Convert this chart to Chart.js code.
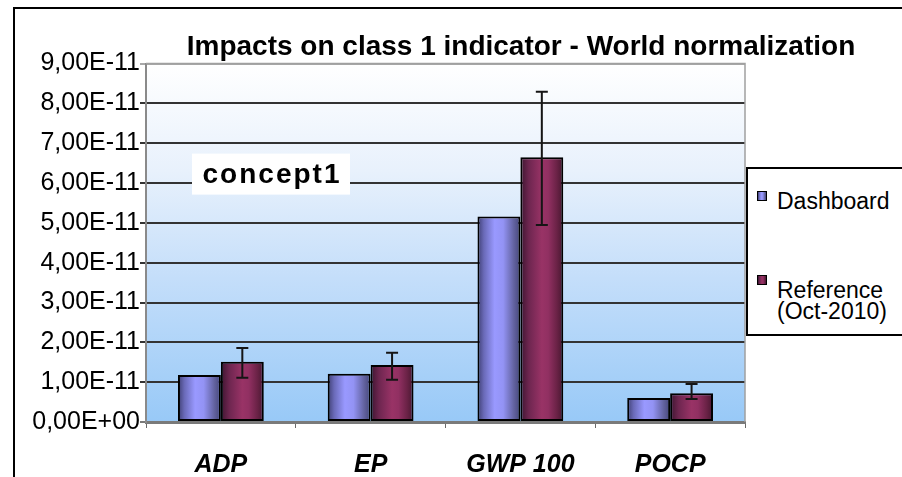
<!DOCTYPE html>
<html><head><meta charset="utf-8">
<script src="https://cdn.jsdelivr.net/npm/chart.js@4/dist/chart.umd.min.js"></script>
<style>
html,body{margin:0;padding:0;background:#fff;}
#wrap{position:relative;width:902px;height:477px;overflow:hidden;}
canvas{position:absolute;left:0;top:0;}
#legend{position:absolute;left:746px;top:167px;width:180px;height:165px;border:2px solid #000;background:#fff;font-family:'Liberation Sans',Arial,sans-serif;font-size:23px;color:#000;}
.sw{position:absolute;left:9px;width:8px;height:8px;border:1px solid #000;}
.txt{position:absolute;left:29px;line-height:21px;white-space:nowrap;}
</style></head>
<body>
<div id="wrap"><canvas id="c" width="902" height="477"></canvas><div id="legend"></div></div>
<script>
const titleText = 'Impacts on class 1 indicator - World normalization';
const categories = ['ADP', 'EP', 'GWP 100', 'POCP'];
const seriesNames = [['Dashboard'], ['Reference', '(Oct-2010)']];
const dashboard = [1.18e-11, 1.21e-11, 5.16e-11, 0.60e-11];
const reference = [1.51e-11, 1.43e-11, 6.65e-11, 0.72e-11];
const refErrLow = [1.11e-11, 1.06e-11, 4.95e-11, 0.58e-11];
const refErrHigh = [1.86e-11, 1.74e-11, 8.29e-11, 0.955e-11];
const yTicks = [0, 1e-11, 2e-11, 3e-11, 4e-11, 5e-11, 6e-11, 7e-11, 8e-11, 9e-11];
const yTickLabels = ['0,00E+00', '1,00E-11', '2,00E-11', '3,00E-11', '4,00E-11', '5,00E-11', '6,00E-11', '7,00E-11', '8,00E-11', '9,00E-11'];
const noteText = 'concept1';

const CAT_PCT = 0.573;
const dashStops = [[0,'#3e3e72'],[0.15,'#6a6ab8'],[0.4,'#9999ff'],[0.6,'#9393f4'],[0.85,'#62629f'],[1,'#45457a']];
const refStops = [[0,'#3d1530'],[0.2,'#6e2650'],[0.5,'#993366'],[0.65,'#913062'],[0.85,'#6a2246'],[1,'#46172f']];

function barGrad(stops, fallback){
  return (c) => {
    const ch = c.chart, xs = ch.scales.x;
    if (!ch.chartArea || !xs || c.dataIndex === undefined) return fallback;
    const catW = xs.width / categories.length;
    const bw = catW * CAT_PCT / 2;
    const center = xs.getPixelForValue(c.dataIndex);
    const left = center - bw + c.datasetIndex * bw;
    const g = ch.ctx.createLinearGradient(left, 0, left + bw, 0);
    stops.forEach(s => g.addColorStop(s[0], s[1]));
    return g;
  };
}

// legend (HTML)
const legendEl = document.getElementById('legend');
const swTops = [22, 106];
const txtTops = [22, 110.5];
const swCss = [
  'linear-gradient(to right,' + dashStops.map(s => s[1] + ' ' + (s[0]*100) + '%').join(',') + ')',
  'linear-gradient(to right,' + refStops.map(s => s[1] + ' ' + (s[0]*100) + '%').join(',') + ')'
];
seriesNames.forEach((lines, i) => {
  const sw = document.createElement('div');
  sw.className = 'sw'; sw.style.top = swTops[i] + 'px'; sw.style.background = swCss[i];
  legendEl.appendChild(sw);
  const t = document.createElement('div');
  t.className = 'txt'; t.style.top = txtTops[i] + 'px';
  t.innerHTML = lines.join('<br>');
  legendEl.appendChild(t);
});

const bgPlugin = {
  id: 'bg',
  beforeDraw(chart) {
    const {ctx, chartArea: ca} = chart;
    ctx.save();
    ctx.strokeStyle = '#000'; ctx.lineWidth = 2;
    ctx.beginPath(); ctx.moveTo(14, 477); ctx.lineTo(14, 8); ctx.lineTo(902, 8); ctx.stroke();
    const g = ctx.createLinearGradient(0, ca.top, 0, ca.bottom);
    g.addColorStop(0, '#ffffff');
    g.addColorStop(0.3, '#e8f1fc');
    g.addColorStop(0.6, '#c4defa');
    g.addColorStop(1, '#98c9f7');
    ctx.fillStyle = g;
    ctx.fillRect(ca.left, ca.top, ca.right - ca.left, ca.bottom - ca.top);
    ctx.restore();
  },
  beforeDatasetsDraw(chart) {
    const {ctx, chartArea: ca} = chart;
    ctx.save();
    ctx.strokeStyle = '#a0a0a0'; ctx.lineWidth = 1.5;
    ctx.beginPath(); ctx.moveTo(ca.left, ca.top); ctx.lineTo(ca.right, ca.top); ctx.lineTo(ca.right, ca.bottom); ctx.stroke();
    const bx = ca.left + 46, by = ca.top + 90, bwid = 158, bh = 41;
    ctx.fillStyle = '#fff';
    ctx.fillRect(bx, by, bwid, bh);
    ctx.fillStyle = '#000';
    ctx.font = 'bold 28px "Liberation Sans", Arial, sans-serif';
    ctx.letterSpacing = '2px';
    ctx.textAlign = 'center'; ctx.textBaseline = 'middle';
    ctx.fillText(noteText, bx + bwid / 2 + 1, by + bh / 2 + 1);
    ctx.restore();
  },
  afterDatasetsDraw(chart) {
    const {ctx} = chart;
    const ys = chart.scales.y;
    const meta = chart.getDatasetMeta(1);
    ctx.save();
    ctx.strokeStyle = '#151515'; ctx.lineWidth = 2;
    meta.data.forEach((el, i) => {
      const x = el.x;
      const yH = ys.getPixelForValue(refErrHigh[i]);
      const yL = ys.getPixelForValue(refErrLow[i]);
      ctx.beginPath();
      ctx.moveTo(x, yH); ctx.lineTo(x, yL);
      ctx.moveTo(x - 6, yH); ctx.lineTo(x + 6, yH);
      ctx.moveTo(x - 6, yL); ctx.lineTo(x + 6, yL);
      ctx.stroke();
    });
    ctx.restore();
  }
};

new Chart(document.getElementById('c'), {
  type: 'bar',
  data: {
    labels: categories,
    datasets: [
      {label: seriesNames[0].join(' '), data: dashboard, backgroundColor: barGrad(dashStops, '#9999ff'),
       borderColor: '#000', borderWidth: 2, borderSkipped: false, categoryPercentage: CAT_PCT, barPercentage: 1},
      {label: seriesNames[1].join(' '), data: reference, backgroundColor: barGrad(refStops, '#993366'),
       borderColor: '#000', borderWidth: 2, borderSkipped: false, categoryPercentage: CAT_PCT, barPercentage: 1}
    ]
  },
  options: {
    responsive: false, animation: false, devicePixelRatio: 1,
    layout: {padding: {left: 0, right: -140, top: 0, bottom: 0}},
    plugins: {
      legend: {display: false}, tooltip: {enabled: false},
      title: {display: true, text: titleText, color: '#000',
        font: {family: '"Liberation Sans", Arial, sans-serif', size: 28, weight: 'bold', lineHeight: 1.2},
        padding: {top: 30, bottom: 0}}
    },
    scales: {
      x: {
        grid: {display: true, drawOnChartArea: false, tickLength: 6, color: '#6a6a6a', lineWidth: 1, offset: true},
        border: {display: true, color: '#7a7a7a', width: 3},
        ticks: {color: '#000', padding: 22, maxRotation: 0,
          font: {family: '"Liberation Sans", Arial, sans-serif', size: 25, weight: 'bold', style: 'italic'}},
        afterFit: s => { s.height = 55; }
      },
      y: {
        min: 0, max: 9e-11,
        afterBuildTicks: s => { s.ticks = yTicks.map(v => ({value: v})); },
        grid: {color: c => (c.index === 0 ? '#7a7a7a' : (c.index === yTicks.length - 1 ? '#a8a8a8' : '#333333')),
               lineWidth: 2, tickLength: 6},
        border: {display: true, color: '#8a8a8a', width: 2},
        ticks: {color: '#000', padding: 0, font: {family: '"Liberation Sans", Arial, sans-serif', size: 25},
          callback: (v, i) => yTickLabels[i]},
        afterFit: s => { s.width = 146; }
      },
      yR: {
        position: 'right', display: true,
        grid: {display: false}, border: {display: false}, ticks: {display: false},
        afterFit: s => { s.width = 297; }
      }
    }
  },
  plugins: [bgPlugin]
});
</script>
</body></html>
